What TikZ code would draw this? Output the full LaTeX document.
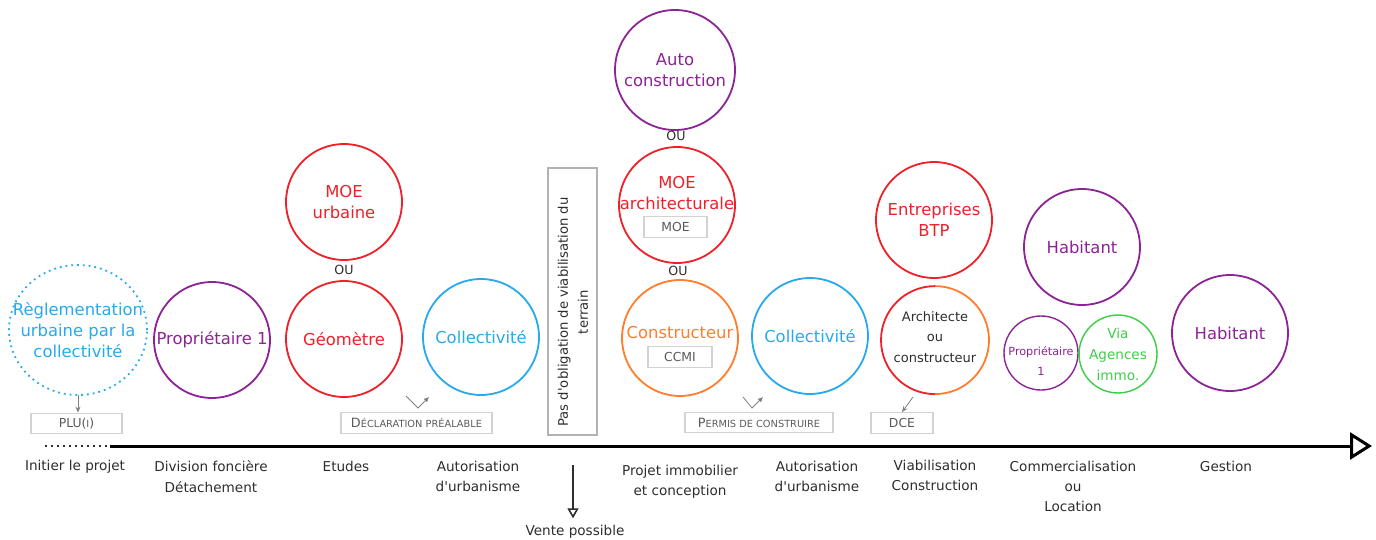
\documentclass[tikz,border=0pt]{standalone}
\usepackage{fontspec}
\setmainfont{DejaVu Sans}
\usetikzlibrary{arrows.meta,shapes.geometric}
\definecolor{cred}{RGB}{238,32,42}
\definecolor{cpurple}{RGB}{140,35,150}
\definecolor{cblue}{RGB}{38,170,235}
\definecolor{corange}{RGB}{255,125,45}
\definecolor{cgreen}{RGB}{60,205,70}
\definecolor{ctext}{RGB}{45,45,45}
\definecolor{cboxline}{RGB}{210,210,210}
\definecolor{cboxtext}{RGB}{90,90,90}
\newcommand\fakesc[2]{{\fontsize{6.4}{7}\selectfont #1}{\fontsize{4.9}{6}\selectfont #2}}
\newcommand\apos{\textquotesingle}
\begin{document}
\begin{tikzpicture}[x=0.5pt,y=-0.5pt,
  circ/.style={circle, draw, line width=0.9pt, minimum size=58pt, inner sep=0pt, align=center, font=\fontsize{8.2}{10.5}\selectfont},
  smallcirc/.style={circle, draw, line width=0.7pt, minimum size=37pt, inner sep=0pt, align=center},
  gbox/.style={draw=cboxline, line width=0.6pt, text=cboxtext, inner sep=0pt, minimum height=10.3pt, font=\fontsize{6.2}{7}\selectfont},
  lab/.style={text=ctext, align=center, font=\fontsize{6.8}{10.1}\selectfont},
  oulab/.style={text=ctext, font=\fontsize{6.3}{7}\selectfont},
  tick/.style={draw=gray, line width=0.4pt},
]
\useasboundingbox (0,0) rectangle (1376,540);

% circles
\node[text=cblue, align=center, inner sep=0pt, font=\fontsize{8.2}{10.5}\selectfont] (regl) at (78,330) {Règlementation\\urbaine par la\\collectivité};
\draw[cblue, dotted, line width=0.9pt] (regl.center) ellipse [x radius=34.5pt, y radius=32.5pt];
\coordinate (reglS) at (78,395);
\node[circ, draw=cpurple, text=cpurple] (prop) at (212,340) {Propriétaire 1};
\node[circ, draw=cred, text=cred] (moeu) at (344,202) {MOE\\urbaine};
\node[oulab] (ou1) at (344,270) {OU};
\node[circ, draw=cred, text=cred] (geo) at (344,339) {Géomètre};
\node[circ, draw=cblue, text=cblue] (coll1) at (481,337) {Collectivité};

\node[circ, draw=cpurple, text=cpurple, minimum size=60pt] (auto) at (675,70) {Auto\\construction};
\node[oulab] (ou2) at (676,136) {OU};
\node[circ, draw=cred, text=cred] (moea) at (677,205) {};
\node[text=cred, align=center, font=\fontsize{8.2}{10.5}\selectfont] (moeat) at (677,193) {MOE\\architecturale};
\node[oulab] (ou3) at (678,271) {OU};
\node[circ, draw=corange, text=corange] (cons) at (680,338) {};
\node[text=corange, font=\fontsize{8.2}{10.5}\selectfont] (const) at (680,333) {Constructeur};
\node[circ, draw=cblue, text=cblue] (coll2) at (810,336) {Collectivité};

\node[circ, draw=cred, text=cred] (btp) at (934,220) {Entreprises\\BTP};
\node[circ, draw=none, minimum size=54pt] (arch) at (935,341) {};
\node[text=ctext, align=center, font=\fontsize{6.5}{10.3}\selectfont] (archt) at (935,337) {Architecte\\ou\\constructeur};
\draw[cred, line width=0.9pt] (arch.north) arc[start angle=90, end angle=270, radius=27pt];
\draw[corange, line width=0.9pt] (arch.north) arc[start angle=90, end angle=-90, radius=27pt];

\node[circ, draw=cpurple, text=cpurple] (hab1) at (1082,247) {Habitant};
\node[smallcirc, draw=cpurple] (prop2) at (1041,353) {};
\node[text=cpurple, align=center, font=\fontsize{5.6}{10.3}\selectfont] (prop2t) at (1041,361) {Propriétaire\\1};
\node[smallcirc, draw=cgreen, text=cgreen, font=\fontsize{6.8}{10.5}\selectfont] (via) at (1118,354) {Via\\Agences\\immo.};
\node[circ, draw=cpurple, text=cpurple] (hab2) at (1230,333) {Habitant};

% grey boxes
\node[gbox, minimum width=45.5pt] (plu) at (76.5,423.5) {PLU({\fontsize{4.9}{6}\selectfont I})};
\node[gbox, minimum width=75.5pt] (decl) at (416.5,423) {\fakesc{D}{ÉCLARATION PRÉALABLE}};
\node[gbox, minimum width=31.5pt] (moebox) at (675.5,227) {MOE};
\node[gbox, minimum width=32pt] (ccmi) at (680,357) {CCMI};
\node[gbox, minimum width=74pt] (permis) at (759,422.5) {\fakesc{P}{ERMIS DE CONSTRUIRE}};
\node[gbox, minimum width=31pt] (dce) at (902,423) {DCE};

% vertical box
\node[draw=gray!60, line width=0.6pt, minimum width=24.5pt, minimum height=133.5pt, inner sep=0pt] (vbox) at (572.5,301.5) {};
\node[rotate=90, align=center, text=ctext, font=\fontsize{6.6}{10}\selectfont] (vtext) at (573,312) {Pas d\apos obligation de viabilisation du\\terrain};

% small arrows
\draw[tick, -{Stealth[length=3pt,width=2.5pt]}] (reglS) -- (reglS |- plu.north);
\coordinate (v1a) at (406,396); \coordinate (v1b) at (418,408); \coordinate (v1c) at (429,397);
\draw[tick, -{Latex[length=2.5pt,width=2.5pt]}] (v1a) -- (v1b) -- (v1c);
\coordinate (v2a) at (743,397); \coordinate (v2b) at (752,408); \coordinate (v2c) at (763,397);
\draw[tick, -{Latex[length=2.5pt,width=2.5pt]}] (v2a) -- (v2b) -- (v2c);
\coordinate (dcea) at (913,397);
\draw[tick, -{Stealth[length=3pt,width=2.5pt]}] (dcea) -- (dce.north);

% timeline
\coordinate (t0) at (45,446);
\coordinate (t1) at (110,446);
\coordinate (t2) at (1372,446);
\draw[line width=1pt, dotted, ctext] (t0) -- (t1);
\draw[line width=1.5pt, -{Triangle[open, length=11pt, width=13.5pt, line width=1.5pt]}] (t1) -- (t2);

% vente possible
\coordinate (va) at (573,465);
\node[lab] (vente) at (575,532) {Vente possible};
\draw[line width=0.8pt, ctext, -{Triangle[open, length=5pt, width=5.5pt]}] (va) -- (va |- vente.north);

% labels
\node[lab, anchor=north] (l1) at (75,453) {Initier le projet};
\node[lab, anchor=north] (l2) at (211,454) {Division foncière\\Détachement};
\node[lab, anchor=north] (l3) at (346,454) {Etudes};
\node[lab, anchor=north] (l4) at (478,454) {Autorisation\\d\apos urbanisme};
\node[lab, anchor=north] (l5) at (680,458) {Projet immobilier\\et conception};
\node[lab, anchor=north] (l6) at (817,454) {Autorisation\\d\apos urbanisme};
\node[lab, anchor=north] (l7) at (935,453) {Viabilisation\\Construction};
\node[lab, anchor=north] (l8) at (1073,454) {Commercialisation\\ou\\Location};
\node[lab, anchor=north] (l9) at (1226,454) {Gestion};
\end{tikzpicture}
\end{document}
